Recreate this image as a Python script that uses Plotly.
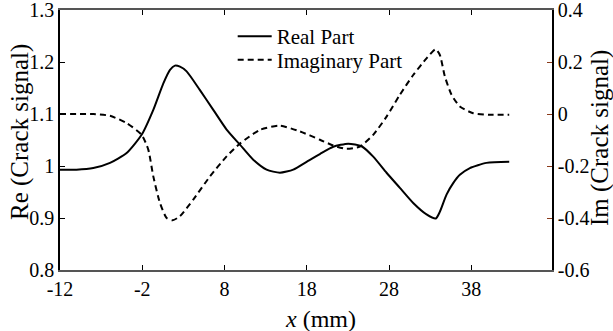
import plotly.graph_objects as go

# Data
x_real = [-12, -10, -7.95, -5.92, -3.90, -2.08, -0.66, 0.56, 1.37, 1.97, 2.58, 3.39, 5.01, 6.63,
          8.25, 9.87, 11.49, 13.11, 14.73, 16.35, 17.97, 19.59, 21.21, 23.03, 24.65, 26.07, 27.69,
          29.31, 30.93, 32.55, 33.68, 34.17, 34.98, 35.79, 36.6, 37.82, 39.84, 42.6]
re_vals = [0.993, 0.993, 0.996, 1.006, 1.025, 1.060, 1.108, 1.159, 1.185, 1.193, 1.191, 1.182,
           1.146, 1.108, 1.070, 1.041, 1.012, 0.993, 0.987, 0.993, 1.008, 1.023, 1.037, 1.043,
           1.038, 1.018, 0.987, 0.958, 0.929, 0.907, 0.899, 0.912, 0.945, 0.967, 0.983, 0.996,
           1.006, 1.008]

x_imag = [-12, -10, -7.95, -5.92, -3.90, -2.08, -1.27, -0.66, 0.15, 0.96, 1.69, 2.58, 4.20, 6.23,
          8.25, 9.87, 12.30, 14.73, 17.16, 19.59, 21.21, 22.83, 24.45, 26.07, 27.69, 29.31, 30.93,
          32.55, 33.64, 34.17, 34.78, 35.59, 36.60, 38.22, 40.25, 42.6]
im_vals = [0, 0, 0, -0.007, -0.035, -0.080, -0.137, -0.240, -0.342, -0.400, -0.409, -0.393,
           -0.329, -0.240, -0.163, -0.114, -0.061, -0.045, -0.067, -0.099, -0.121, -0.134, -0.125,
           -0.080, -0.010, 0.074, 0.150, 0.214, 0.249, 0.227, 0.144, 0.074, 0.029, 0.003, -0.003, -0.003]

x_ticks = [-12, -2, 8, 18, 28, 38]
y_left_ticks = [0.8, 0.9, 1.0, 1.1, 1.2, 1.3]
y_left_text = ["0.8", "0.9", "1", "1.1", "1.2", "1.3"]
y_right_ticks = [-0.6, -0.4, -0.2, 0, 0.2, 0.4]
y_right_text = ["-0.6", "-0.4", "-0.2", "0", "0.2", "0.4"]

FONT = "Liberation Serif"
X_RANGE = [-12, 47.8]

fig = go.Figure()
fig.add_trace(go.Scatter(x=x_real, y=re_vals, name="Real Part", mode="lines", legend="legend",
                         line=dict(color="black", width=2, shape="spline", smoothing=0.6)))
fig.add_trace(go.Scatter(x=x_imag, y=im_vals, name="Imaginary Part", mode="lines",
                         xaxis="x2", yaxis="y2", legend="legend2",
                         line=dict(color="black", width=2, dash="6px,4px", shape="spline", smoothing=0.6)))

legend_common = dict(xanchor="left", yanchor="top", bgcolor="rgba(0,0,0,0)",
                     font=dict(size=21, family=FONT, color="black"), itemwidth=34)

fig.update_layout(
    width=613, height=331,
    margin=dict(l=60, r=61, t=10, b=61, autoexpand=False),
    paper_bgcolor="white", plot_bgcolor="white",
    font=dict(family=FONT, size=20, color="black"),
    showlegend=True,
    legend=dict(x=0.351, y=0.977, **legend_common),
    legend2=dict(x=0.351, y=0.886, **legend_common),
    xaxis=dict(range=X_RANGE, tickvals=x_ticks, ticktext=[str(v) for v in x_ticks],
               ticks="inside", ticklen=5, tickcolor="black", showgrid=False, zeroline=False,
               showline=True, linecolor="#555555", linewidth=1.5, mirror="ticks",
               automargin=False, ticklabeloverflow="allow", tickfont=dict(size=20, family=FONT)),
    xaxis2=dict(range=X_RANGE, tickvals=x_ticks, overlaying="x", side="top",
                ticks="inside", ticklen=5, tickcolor="black", showgrid=False, zeroline=False,
                showticklabels=False, showline=True, linecolor="#555555", linewidth=1.5,
                automargin=False),
    yaxis=dict(range=[0.8, 1.3], tickvals=y_left_ticks, ticktext=y_left_text,
               ticks="inside", ticklen=5, tickcolor="black", showgrid=False, zeroline=False,
               showline=True, linecolor="black", linewidth=1.5, automargin=False,
               ticklabeloverflow="allow", tickfont=dict(size=20, family=FONT)),
    yaxis2=dict(range=[-0.6, 0.4], tickvals=y_right_ticks, ticktext=y_right_text,
                overlaying="y", side="right", ticks="inside", ticklen=5, tickcolor="#8a3a1a",
                showgrid=False, zeroline=False, showline=True, linecolor="black", linewidth=1.5,
                automargin=False, ticklabeloverflow="allow", tickfont=dict(size=20, family=FONT)),
)

fig.add_annotation(text="<i>x</i> (mm)", xref="paper", yref="paper",
                   x=(320 - 60) / 492, y=-(319 - 270) / 260, xanchor="center", yanchor="middle",
                   showarrow=False, font=dict(size=24, family=FONT))
fig.add_annotation(text="Re (Crack signal)", xref="paper", yref="paper",
                   x=-(60 - 20) / 492, y=(270 - 132) / 260, xanchor="center", yanchor="middle",
                   textangle=-90, showarrow=False, font=dict(size=25, family=FONT))
fig.add_annotation(text="Im (Crack signal)", xref="paper", yref="paper",
                   x=1 + (600 - 552) / 492, y=(270 - 138) / 260, xanchor="center", yanchor="middle",
                   textangle=-90, showarrow=False, font=dict(size=25, family=FONT))

fig.write_html("out.html", config={"displayModeBar": False},
               post_script="document.body.style.margin='0';document.body.style.overflow='hidden';")
